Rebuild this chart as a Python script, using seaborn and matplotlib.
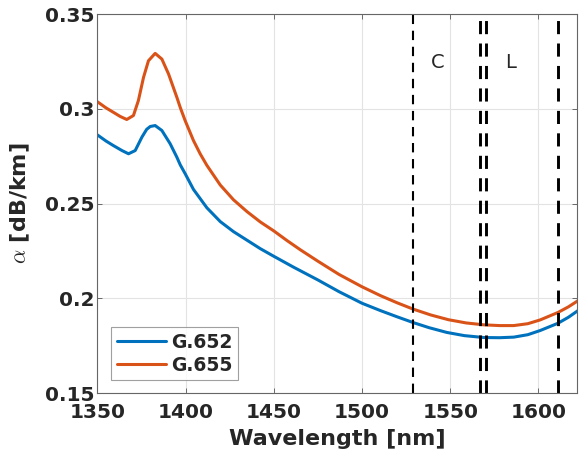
import numpy as np
import pandas as pd
import seaborn as sns
import matplotlib.pyplot as plt

# G.652 attenuation
wl_652 = [1350, 1355, 1359, 1364, 1367.7, 1371.5, 1375.3, 1378, 1380, 1382.8, 1386.6,
          1391.3, 1395.1, 1397, 1399.8, 1404.5, 1412.1, 1419.7, 1427.2, 1434.8, 1442.4,
          1450, 1461.3, 1475, 1487, 1500, 1510.5, 1520, 1529, 1538, 1548, 1558, 1569,
          1578, 1586, 1594, 1601, 1611, 1617, 1623]
att_652 = [0.2863, 0.2830, 0.2807, 0.2780, 0.2763, 0.2780, 0.2851, 0.2892, 0.2907,
           0.2912, 0.2886, 0.2816, 0.2745, 0.2705, 0.2658, 0.2575, 0.2478, 0.2405,
           0.2352, 0.2307, 0.2262, 0.2222, 0.2164, 0.2097, 0.2035, 0.1974, 0.1935,
           0.1902, 0.1872, 0.1845, 0.1820, 0.1803, 0.1793, 0.1792, 0.1795, 0.1808,
           0.1830, 0.1868, 0.1900, 0.1939]

# G.655 attenuation
wl_655 = [1350, 1355, 1359.1, 1363, 1366.7, 1370.5, 1373.3, 1376.2, 1379, 1382.8,
          1386.6, 1390.4, 1395.1, 1397, 1399.8, 1404.5, 1408.3, 1412.1, 1419.7, 1427.2,
          1434.8, 1442.4, 1450, 1457.5, 1465.1, 1475, 1487, 1500, 1510.5, 1520, 1529,
          1539, 1549, 1559, 1569, 1578, 1586, 1594, 1601, 1611, 1617, 1623]
att_655 = [0.3038, 0.3005, 0.2982, 0.2960, 0.2944, 0.2965, 0.3044, 0.3166, 0.3254,
           0.3293, 0.3263, 0.3184, 0.3061, 0.3008, 0.2938, 0.2833, 0.2763, 0.2702,
           0.2598, 0.2520, 0.2458, 0.2403, 0.2356, 0.2305, 0.2256, 0.2196, 0.2126,
           0.2061, 0.2014, 0.1976, 0.1943, 0.1912, 0.1887, 0.1870, 0.1860, 0.1856,
           0.1856, 0.1866, 0.1886, 0.1925, 0.1955, 0.1991]

fibers = ['G.652', 'G.655']
band_edges = [1529, 1567, 1570, 1611]
band_names = ['C', 'L']
band_label_x = [1543, 1584]

df = pd.concat([
    pd.DataFrame({'wl': wl_652, 'att': att_652, 'fiber': fibers[0]}),
    pd.DataFrame({'wl': wl_655, 'att': att_655, 'fiber': fibers[1]}),
])

sns.set_theme(style='ticks')
plt.rcParams['font.family'] = ['DejaVu Sans']
plt.rcParams['mathtext.fontset'] = 'cm'

fig = plt.figure(figsize=(5.79, 4.57), dpi=100)
ax = fig.add_axes([0.168, 0.14, 0.829, 0.829])

ax.grid(True, color='#e3e3e3', lw=0.8)
ax.set_axisbelow(True)

sns.lineplot(data=df, x='wl', y='att', hue='fiber', palette=['#0072BD', '#D95319'],
             lw=2.2, ax=ax)

for i, xv in enumerate(band_edges):
    ax.axvline(xv, color='black', lw=1.5 if i == 0 else 2.1, ls=(0, (4.5, 3.2)))

for name, xv in zip(band_names, band_label_x):
    ax.text(xv, 0.3244, name, fontsize=14, ha='center', va='center', color='#262626')

ax.set_xlim(1350, 1622)
ax.set_ylim(0.15, 0.35)
ax.set_xticks([1350, 1400, 1450, 1500, 1550, 1600])
ax.set_yticks([0.15, 0.2, 0.25, 0.3, 0.35])
ax.set_yticklabels(['0.15', '0.2', '0.25', '0.3', '0.35'])
ax.tick_params(direction='in', length=3.5, width=0.6, color='#555555',
               labelsize=14.5, labelcolor='#262626', top=True, right=True,
               labeltop=False, labelright=False, pad=2)
ax.tick_params(axis='x', pad=7)
for lab in ax.get_xticklabels() + ax.get_yticklabels():
    lab.set_fontweight('bold')
for sp in ax.spines.values():
    sp.set_color('#666666')
    sp.set_linewidth(0.8)

ax.set_xlabel('Wavelength [nm]', fontsize=16, fontweight='bold', color='#262626', labelpad=5)
ax.set_ylabel(r'$\alpha$ [dB/km]', fontsize=16, fontweight='bold', color='#262626', labelpad=9)

leg = ax.legend(title=None, loc='lower left', bbox_to_anchor=(0.029, 0.034),
                prop={'weight': 'bold', 'size': 13.5}, frameon=True, fancybox=False,
                handlelength=2.6, handletextpad=0.3, borderpad=0.3, labelspacing=0.2,
                borderaxespad=0)
leg.get_frame().set_edgecolor('#888888')
leg.get_frame().set_linewidth(0.8)

fig.savefig('out.png', dpi=100)
